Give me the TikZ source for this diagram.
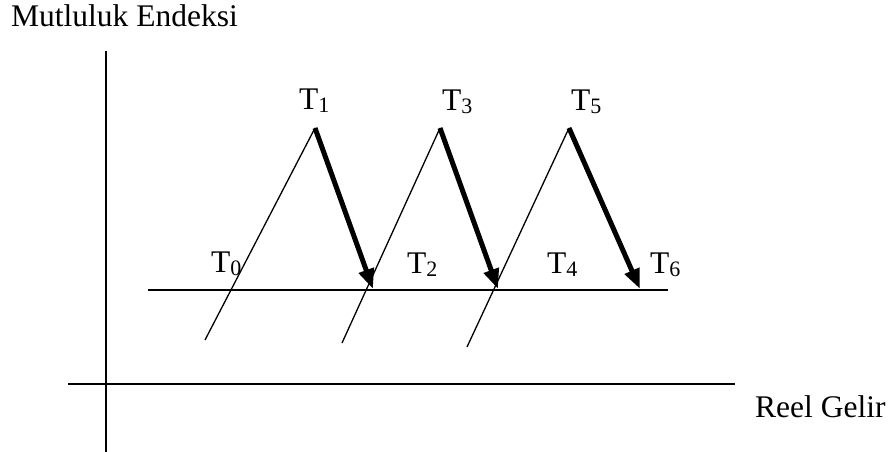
\documentclass[tikz,border=0pt]{standalone}
\usepackage{fontspec}
\setmainfont{Liberation Serif}
\usetikzlibrary{arrows.meta}
\newcommand{\Tsub}[1]{T\raisebox{-3pt}{\fontsize{22}{22}\selectfont #1}}
\begin{document}
\begin{tikzpicture}[x=1pt,y=-1pt,
  lbl/.style={anchor=base west,inner sep=0pt,font=\fontsize{31.5}{36}\selectfont},
  axis/.style={line width=1.8pt},
  thin/.style={line width=1.3pt},
  drop/.style={line width=5pt,-{Triangle[length=20pt,width=15pt]}},
  level/.style={line width=1.6pt}]
\useasboundingbox (0,0) rectangle (891,452);
% axes
\coordinate (vtop) at (106,51);
\coordinate (vbot) at (106,452);
\coordinate (hl) at (68,384);
\coordinate (hr) at (735,384);
\draw[axis] (vtop) -- (vbot);
\draw[axis] (hl) -- (hr);
\node[lbl] (ylab) at (11,27) {Mutluluk Endeksi};
\node[lbl] (xlab) at (755,417) {Reel Gelir};
% level line
\coordinate (ll) at (148,290);
\coordinate (lr) at (668,290);
\draw[level] (ll) -- (lr);
% apexes and ends
\coordinate (a1) at (315,128);
\coordinate (a3) at (440,128);
\coordinate (a5) at (569,128);
\coordinate (b0) at (205,340);
\coordinate (b2) at (342,343);
\coordinate (b4) at (467,347);
\coordinate (e2) at (373,289);
\coordinate (e4) at (498,289);
\coordinate (e6) at (640,289);
\draw[thin] (b0) -- (a1);
\draw[thin] (b2) -- (a3);
\draw[thin] (b4) -- (a5);
\draw[drop] (a1) -- (e2);
\draw[drop] (a3) -- (e4);
\draw[drop] (a5) -- (e6);
% labels
\node[lbl] (t1) at (299,109) {\Tsub{1}};
\node[lbl] (t3) at (442,110) {\Tsub{3}};
\node[lbl] (t5) at (571,110) {\Tsub{5}};
\node[lbl] (t0) at (211,272) {\Tsub{0}};
\node[lbl] (t2) at (407,273) {\Tsub{2}};
\node[lbl] (t4) at (547,273) {\Tsub{4}};
\node[lbl] (t6) at (650,273) {\Tsub{6}};
\end{tikzpicture}
\end{document}
